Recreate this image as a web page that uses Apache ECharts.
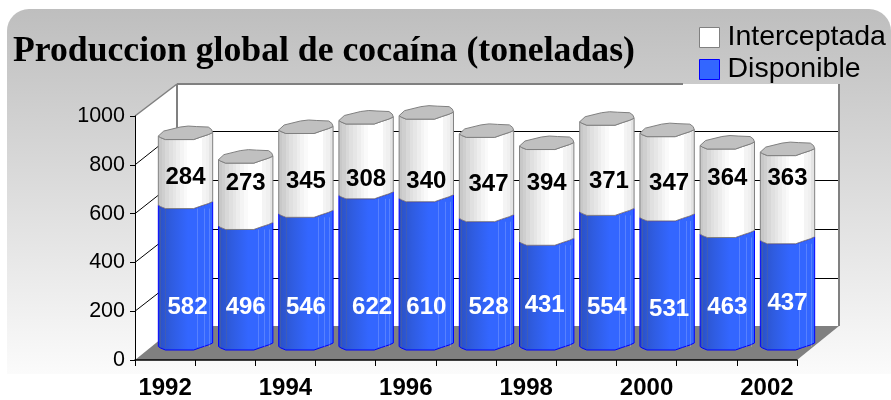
<!DOCTYPE html>
<html><head><meta charset="utf-8">
<style>html,body{margin:0;padding:0;background:#fff}#c{width:891px;height:400px}</style>
<script src="https://cdn.jsdelivr.net/npm/echarts@6/dist/echarts.min.js"></script>
</head><body><div id="c"></div>
<script>
const categories = ['1992','1993','1994','1995','1996','1997','1998','1999','2000','2001','2002'];
const disponible = [582,496,546,622,610,528,431,554,531,463,437];
const interceptada = [284,273,345,308,340,347,394,371,347,364,363];
const yTicks = [0,200,400,600,800,1000];

// Layout and hand-placed label offsets (separate from the values)
const depthX = 42, depthY = 34;
const whiteNudgeX = [2,0,0,6,0,2,-2,0,2,0,0];
const whiteNudgeY = [0,0,0,0,0,0,-2,0,2,0,-4];
const blackNudgeX = [0,0,0,0,0,2,0,2,2,0,0];
const blackNudgeY = [-4,2,0,-2,0,3,2,0,2,-3,-3];
const whiteLabelAnchor = 177, blackLabelAnchor = 695;

const lowerProfile = [[0,-3.5],[.04,-2],[.13,0],[.65,0],[.78,-2.5],[.92,-5],[1,-7]];
const backProfile = [[1,-7],[.98,-10],[.92,-12.5],[.7,-13],[.55,-13.5],[.4,-12.5],[.1,-8.5],[0,-3.5]];

function hardStops(list){
  const out=[];
  list.forEach((s,i)=>{
    const a=i/list.length,b=(i+1)/list.length;
    out.push({offset:a,color:s},{offset:b,color:s});
  });
  return out;
}
const whiteFill = {type:'linear',x:0,y:0,x2:1,y2:0,colorStops:hardStops(
  ['#c8c8c8','#cfcfcf','#d8d8d8','#e0e0e0','#e6e6e6','#ededed','#f4f4f4','#fafafa','#ffffff','#ffffff','#ffffff','#ffffff','#f4f4f4','#f0f0f0','#e4e4e4'])};
const blueFill = {type:'linear',x:0,y:0,x2:1,y2:0,colorStops:[
  {offset:0,color:'#2a50c4'},{offset:.25,color:'#2f5ce0'},{offset:.55,color:'#3366ff'},{offset:1,color:'#3366ff'}]};

function profile(list,xl,w,y){return list.map(p=>[xl+p[0]*w,y+p[1]]);}

function barItem(isBlue){
  return function(params,api){
    const i=api.value(0),lo=api.value(1),hi=api.value(2);
    const c=api.coord([i,lo]),t=api.coord([i,hi]);
    const w=api.size([1,0])[0]*0.903,xl=c[0]-w/2;
    const low=profile(lowerProfile,xl,w,c[1]);
    const top=profile(lowerProfile,xl,w,t[1]);
    const body=low.concat(top.slice().reverse());
    const kids=[{type:'polygon',shape:{points:body},
      style:{fill:isBlue?blueFill:whiteFill,stroke:isBlue?'#0000ff':'#808080',lineWidth:1}}];
    if(isBlue){
      [[.03,'rgba(90,100,140,.45)'],[.13,'rgba(90,100,140,.4)'],[.72,'rgba(255,255,255,.18)'],[.84,'rgba(255,255,255,.18)'],[.93,'rgba(255,255,255,.18)']].forEach(([u,col])=>{
        const x=Math.round(xl+u*w)+.5;
        kids.push({type:'line',shape:{x1:x,y1:c[1]-3,x2:x,y2:t[1]},style:{stroke:col,lineWidth:1}});
      });
      const a=api.coord([i,whiteLabelAnchor]);
      kids.push({type:'text',z2:50,style:{text:String(api.value(3)),x:a[0]+whiteNudgeX[i],y:a[1]+whiteNudgeY[i],
        fill:'#fff',align:'center',verticalAlign:'middle',font:'bold 24px "Liberation Sans"'}});
    } else {
      const cap=top.concat(profile(backProfile,xl,w,t[1]).slice(1));
      kids.push({type:'polygon',shape:{points:cap},style:{fill:'#c0c0c0',stroke:'#808080',lineWidth:1}});
      const a=api.coord([i,blackLabelAnchor]);
      kids.push({type:'text',z2:50,style:{text:String(api.value(3)),x:a[0]+blackNudgeX[i],y:a[1]+blackNudgeY[i],
        fill:'#000',align:'center',verticalAlign:'middle',font:'bold 24px "Liberation Sans"'}});
    }
    return {type:'group',children:kids};
  };
}

function wallsItem(params,api){
  const cs=params.coordSys;
  const left=cs.x,right=cs.x+cs.width;
  const y0=api.coord([0,0])[1],y1=api.coord([0,1000])[1];
  const a=[left,y0],b=[right,y0],topL=[left,y1];
  const dx=depthX,dy=depthY;
  const tl=[left+dx,y1-dy+2];
  const kids=[
    {type:'polygon',shape:{points:[tl,[right+dx,tl[1]],[right+dx,y0-dy],[left+dx,y0-dy]]},style:{fill:'#fff'}},
    {type:'polygon',shape:{points:[a,topL,tl,[left+dx,y0-dy]]},style:{fill:'#fff'}},
    {type:'polygon',shape:{points:[a,b,[right+dx,y0-dy],[left+dx,y0-dy]]},style:{fill:'#808080'}}
  ];
  yTicks.forEach(t=>{
    if(t>0&&t<1000){
      const y=api.coord([0,t])[1];
      const yb=Math.round(y-dy+.5)+.5;
      kids.push({type:'line',shape:{x1:left,y1:y,x2:left+dx,y2:yb},style:{stroke:'#000',lineWidth:1}});
      kids.push({type:'line',shape:{x1:left+dx,y1:yb,x2:right+dx,y2:yb},style:{stroke:'#000',lineWidth:1}});
    }
  });
  kids.push({type:'line',shape:{x1:left,y1:y1,x2:tl[0],y2:tl[1]},style:{stroke:'#808080',lineWidth:1.5}});
  kids.push({type:'line',shape:{x1:tl[0],y1:tl[1],x2:tl[0],y2:y0-dy},style:{stroke:'#808080',lineWidth:2}});
  kids.push({type:'line',shape:{x1:tl[0],y1:tl[1],x2:683,y2:tl[1]},style:{stroke:'#808080',lineWidth:2}});
  kids.push({type:'line',shape:{x1:right+dx,y1:tl[1],x2:right+dx,y2:y0-dy},style:{stroke:'#808080',lineWidth:2}});
  return {type:'group',children:kids};
}

const blueData=categories.map((_,i)=>[i,0,disponible[i],disponible[i]]);
const whiteData=categories.map((_,i)=>[i,disponible[i],disponible[i]+interceptada[i],interceptada[i]]);

const chart=echarts.init(document.getElementById('c'),null,{renderer:'canvas'});
chart.setOption({
  animation:false,
  backgroundColor:'#fff',
  graphic:[{type:'rect',z:-100,silent:true,shape:{x:7,y:9,width:884,height:365,r:[22,22,0,0]},
    style:{fill:{type:'linear',x:0,y:0,x2:0,y2:1,colorStops:[{offset:0,color:'#bebebe'},{offset:1,color:'#fbfbfb'}]}}}],
  title:{text:'Produccion global de cocaína (toneladas)',left:8,top:29,
    textStyle:{fontFamily:'"Liberation Serif"',fontWeight:'bold',fontSize:35.7,color:'#000'}},
  legend:{orient:'vertical',left:694,top:18,itemWidth:20,itemHeight:20,itemGap:3,
    textStyle:{fontFamily:'"Liberation Sans"',fontSize:28.5,color:'#000',padding:[0,0,0,3]},
    selectedMode:false,
    data:[
      {name:'Interceptada',icon:'rect',itemStyle:{color:'#fff',borderColor:'#808080',borderWidth:1}},
      {name:'Disponible',icon:'rect',itemStyle:{color:'#3366ff',borderColor:'#0000ff',borderWidth:1}}
    ]},
  grid:[
    {left:135,width:662,top:116,height:246},
    {left:155.4,width:662.2,top:107,height:243}
  ],
  xAxis:[
    {type:'category',gridIndex:0,data:categories,z:6,
      axisLine:{lineStyle:{color:'#000',width:1.5}},
      axisTick:{show:true,interval:0,length:6,lineStyle:{color:'#000',width:1}},
      axisLabel:{interval:1,margin:16,color:'#000',fontFamily:'"Liberation Sans"',fontWeight:'bold',fontSize:24}},
    {type:'category',gridIndex:1,data:categories,show:false}
  ],
  yAxis:[
    {type:'value',gridIndex:0,min:0,max:1000,interval:200,z:6,
      splitLine:{show:false},
      axisLine:{show:true,lineStyle:{color:'#000',width:1}},
      axisTick:{show:true,length:5,lineStyle:{color:'#000',width:1}},
      axisLabel:{margin:10,color:'#000',fontFamily:'"Liberation Sans"',fontSize:21.5,formatter:v=>String(v)}},
    {type:'value',gridIndex:1,min:0,max:1000,show:false,splitLine:{show:false}}
  ],
  series:[
    {type:'custom',name:'walls',xAxisIndex:0,yAxisIndex:0,z:1,silent:true,clip:false,renderItem:wallsItem,data:[[0,0]]},
    {type:'custom',name:'Disponible',xAxisIndex:1,yAxisIndex:1,z:5,clip:false,renderItem:barItem(true),data:blueData,itemStyle:{color:'#3366ff'}},
    {type:'custom',name:'Interceptada',xAxisIndex:1,yAxisIndex:1,z:6,clip:false,renderItem:barItem(false),data:whiteData,itemStyle:{color:'#fff'}}
  ]
});
</script></body></html>
